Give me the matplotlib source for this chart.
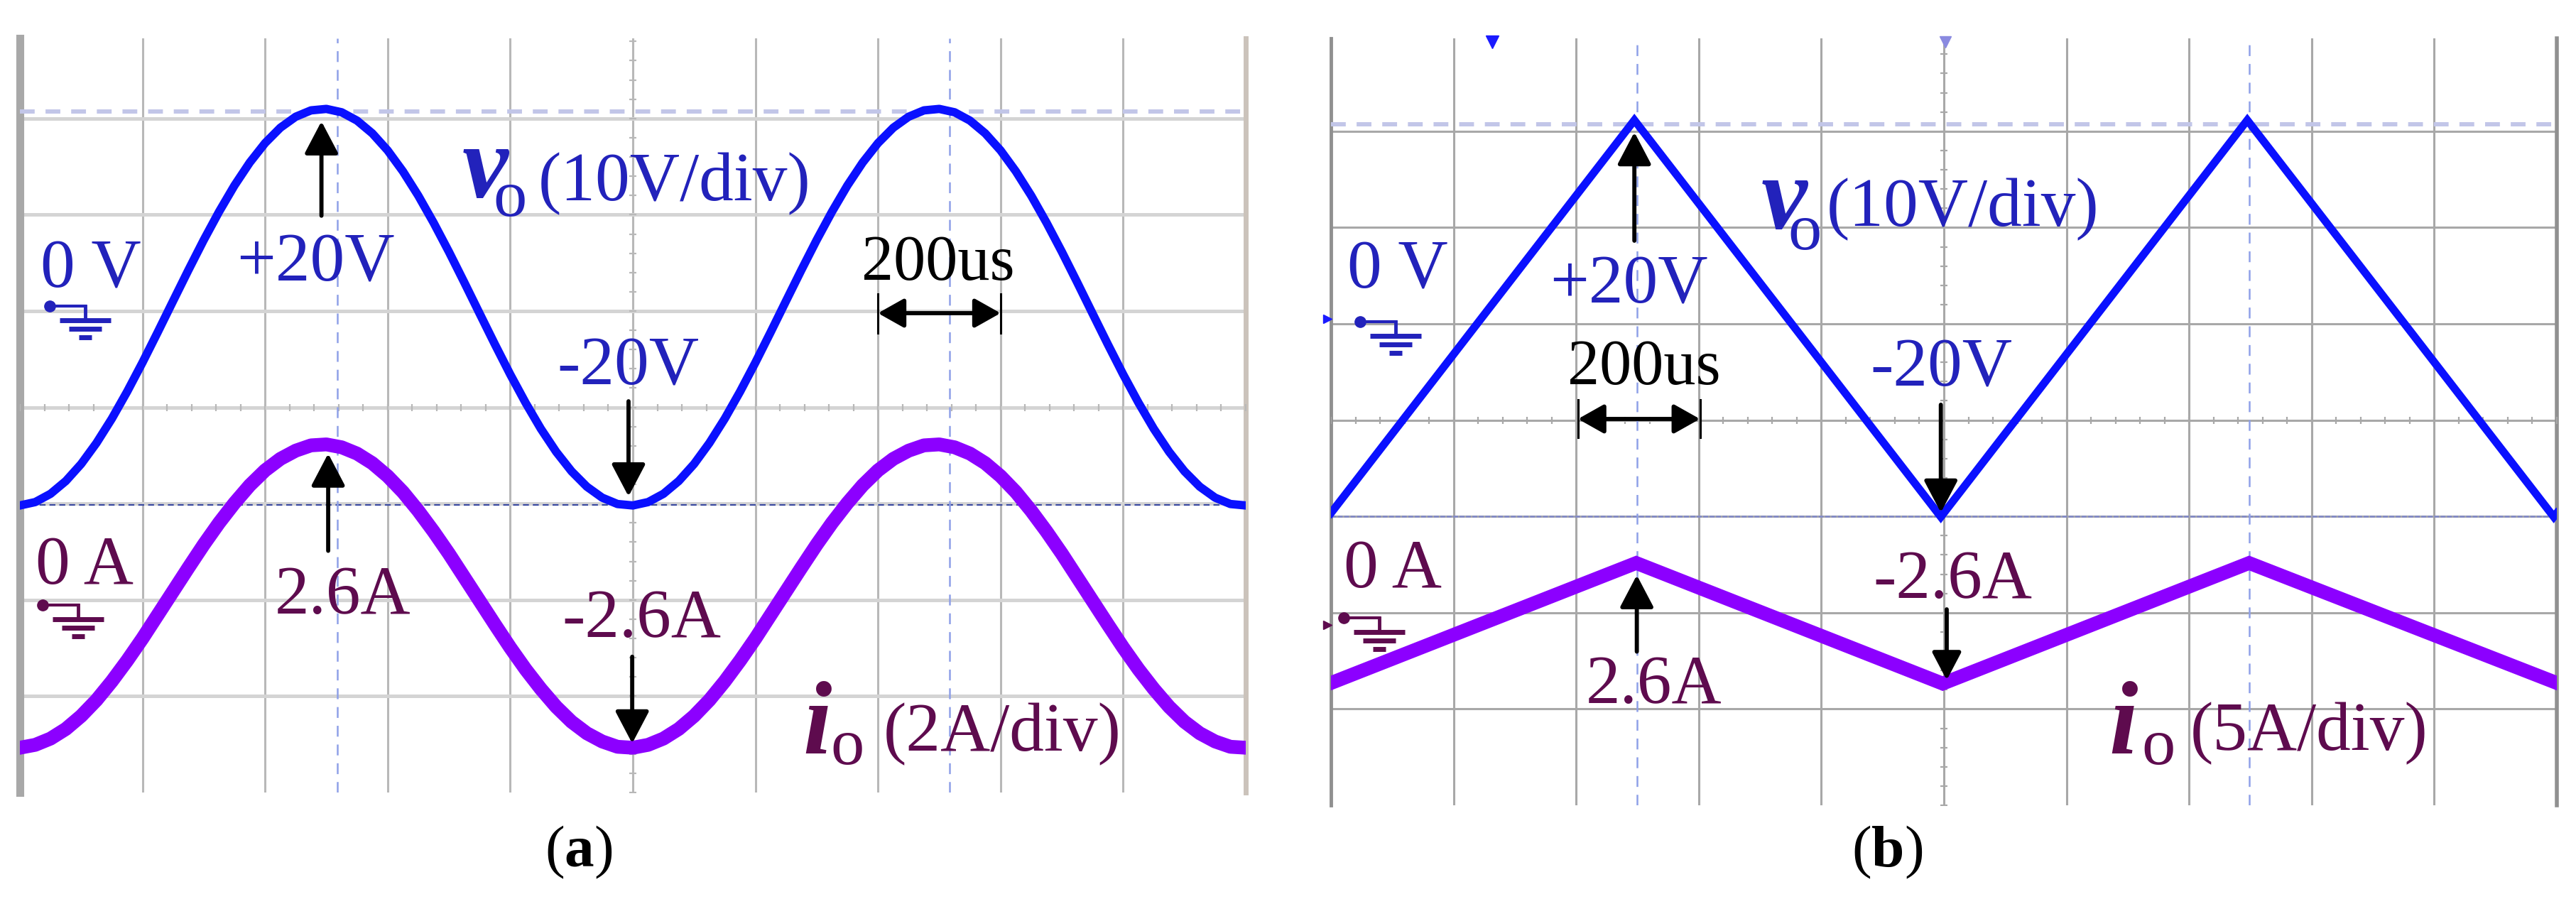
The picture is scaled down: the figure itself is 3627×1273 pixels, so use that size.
import numpy as np
import matplotlib
matplotlib.use("Agg")
import matplotlib.pyplot as plt

plt.rcParams["font.family"] = ["Liberation Serif", "DejaVu Serif"]
plt.rcParams["mathtext.fontset"] = "custom"
plt.rcParams["mathtext.rm"] = "Liberation Serif"
plt.rcParams["mathtext.bf"] = "Liberation Serif:bold"
plt.rcParams["lines.scale_dashes"] = False

# ---- waveforms read off the two scope screens (time in us) ----
# (a) sine output, sampled every 25 us
t_a = np.arange(0, 2001, 25)
v_a = [-20.59, -20.24, -19.38, -18.05, -16.28, -14.10, -11.58, -8.77, -5.75, -2.58,
       0.65, 3.86, 6.98, 9.92, 12.63, 15.02, 17.04, 18.64, 19.78, 20.44,
       20.59, 20.24, 19.38, 18.05, 16.28, 14.10, 11.58, 8.77, 5.75, 2.58,
       -0.65, -3.86, -6.98, -9.92, -12.63, -15.02, -17.04, -18.64, -19.78, -20.44,
       -20.59, -20.24, -19.38, -18.05, -16.28, -14.10, -11.58, -8.77, -5.75, -2.58,
       0.65, 3.86, 6.98, 9.92, 12.63, 15.02, 17.04, 18.64, 19.78, 20.44,
       20.59, 20.24, 19.38, 18.05, 16.28, 14.10, 11.58, 8.77, 5.75, 2.58,
       -0.65, -3.86, -6.98, -9.92, -12.63, -15.02, -17.04, -18.64, -19.78, -20.44,
       -20.59]
i_a = [-3.15, -3.09, -2.96, -2.76, -2.49, -2.16, -1.77, -1.34, -0.88, -0.39,
       0.10, 0.59, 1.07, 1.52, 1.93, 2.30, 2.61, 2.85, 3.02, 3.13,
       3.15, 3.09, 2.96, 2.76, 2.49, 2.16, 1.77, 1.34, 0.88, 0.39,
       -0.10, -0.59, -1.07, -1.52, -1.93, -2.30, -2.61, -2.85, -3.02, -3.13,
       -3.15, -3.09, -2.96, -2.76, -2.49, -2.16, -1.77, -1.34, -0.88, -0.39,
       0.10, 0.59, 1.07, 1.52, 1.93, 2.30, 2.61, 2.85, 3.02, 3.13,
       3.15, 3.09, 2.96, 2.76, 2.49, 2.16, 1.77, 1.34, 0.88, 0.39,
       -0.10, -0.59, -1.07, -1.52, -1.93, -2.30, -2.61, -2.85, -3.02, -3.13,
       -3.15]

# (b) triangle output, corner points
t_bv = [0, 495, 995, 1495, 1995, 2000]
v_b = [-20.2, 20.6, -20.6, 20.6, -20.6, -20.2]
t_bi = [0, 498, 998, 1498, 2000]
i_b = [-3.1, 3.13, -3.13, 3.13, -3.1]

# scope settings: volts/amps per division, channel zero (div)
v_div = 10
i_div_a = 2
i_div_b = 5
v_zero_a, i_zero_a = 0.04, -2.96
v_zero_b, i_zero_b = 0.055, -3.11

US_PER_DIV = 200

BLUE = "#0a10ff"
VIOLET = "#8c00ff"
VTXT = "#2222bb"
ATXT = "#5e0b4e"

W, H = 3627, 1273
fig = plt.figure(figsize=(W / 100, H / 100), dpi=100)


def make_axes(left_px, zero_px, bottom_div=-5.0, top_px=54):
    div_px = 135.6
    bottom_px = zero_px - bottom_div * div_px
    ax = fig.add_axes([left_px / W, (H - bottom_px) / H, 1726 / W, (bottom_px - top_px) / H])
    ax.set_xlim(0, 2000)
    ax.set_ylim(bottom_div, (zero_px - top_px) / div_px)
    ax.axis("off")
    return ax


def grid(ax, hcol, hlw, vcol, vlw, lcol, llw, rcol, rlw):
    y0, y1 = ax.get_ylim()
    for k in range(1, 10):
        ax.plot([k * US_PER_DIV] * 2, [y0, y1], color=vcol, lw=vlw, zorder=1)
    for k in range(-4, 3):
        ax.plot([0, 2000], [k, k], color=hcol, lw=hlw, zorder=1)
    ax.plot([0, 0], [y0, y1], color=lcol, lw=llw, zorder=1, clip_on=False)
    ax.plot([2000, 2000], [y0, y1], color=rcol, lw=rlw, zorder=1, clip_on=False)
    # minor ticks on the centre lines
    xs = np.arange(0, 2001, 40)
    ax.plot(xs, [-1] * len(xs), ls="none", marker="|", ms=7, mew=1.6, color=vcol, zorder=1)
    ys = np.arange(-5, y1, 0.2)
    ax.plot([1000] * len(ys), ys, ls="none", marker="_", ms=7, mew=1.6, color=vcol, zorder=1)


def cursors(ax, tx, y_hi, y_lo, lo_col, lo_style, lo_lw):
    y0, y1 = ax.get_ylim()
    ax.plot([0, 2000], [y_hi, y_hi], color="#c2c6e8", lw=4.3, ls=(0, (15, 11)), zorder=2)
    ax.plot([0, 2000], [y_lo, y_lo], color=lo_col, lw=lo_lw, ls=lo_style, zorder=2)
    for t in tx:
        ax.plot([t, t], [y0, y1], color="#8ea0e8", lw=1.8, ls=(0, (11, 8)), zorder=2)


def ground(ax, t0, y0, color):
    sx = US_PER_DIV / 172.6
    sy = 1 / 135.6
    ax.plot([t0], [y0], marker="o", ms=11, color=color, zorder=6)
    ax.plot([t0, t0 + 50 * sx], [y0, y0], color=color, lw=3, zorder=6)
    ax.plot([t0 + 50 * sx] * 2, [y0, y0 - 20 * sy], color=color, lw=3.5, zorder=6)
    for half, dy, lw in [(36, 20, 5), (23, 32, 5), (9, 44, 5)]:
        ax.plot([t0 + (50 - half) * sx, t0 + (50 + half) * sx], [y0 - dy * sy] * 2,
                color=color, lw=lw, solid_capstyle="butt", zorder=6)


def arrow(ax, t, y_from, y_to, scale=35):
    ax.annotate("", xy=(t, y_to), xytext=(t, y_from),
                arrowprops=dict(arrowstyle="-|>,head_length=0.8,head_width=0.42",
                                mutation_scale=scale, lw=4.2, color="k",
                                shrinkA=0, shrinkB=0), zorder=7)


def span(ax, t0, t1, y, ylo, yhi):
    ax.annotate("", xy=(t1, y), xytext=(t0, y),
                arrowprops=dict(arrowstyle="<|-|>,head_length=0.8,head_width=0.45",
                                mutation_scale=28, lw=4.2, color="k",
                                shrinkA=0, shrinkB=0), zorder=7)
    for t in (t0, t1):
        ax.plot([t, t], [ylo, yhi], color="k", lw=2.2, zorder=7)


def label(ax, t, y, s, color, size=70, **kw):
    ax.text(t, y, s, color=color, fontsize=size, ha="left", va="baseline", zorder=8, **kw)


# ================= panel (a) =================
ax1 = make_axes(28, 438)
grid(ax1, "#d4d4d4", 3.6, "#b8b8b8", 2.2, "#a8a8a8", 8, "#cbc3bb", 5)
cursors(ax1, [518, 1517], 2.07, -2.01, "#3a4aa0", (0, (6, 4)), 1.6)
ax1.plot(t_a, np.array(v_a) / v_div + v_zero_a, color=BLUE, lw=8.5, zorder=4)
ax1.plot(t_a, np.array(i_a) / i_div_a + i_zero_a, color=VIOLET, lw=14, zorder=4)

label(ax1, 33.6, 0.25, "0 V", VTXT)
ground(ax1, 48.7, 0.052, VTXT)
label(ax1, 353, 0.31, "+20V", VTXT)
arrow(ax1, 492, 0.99, 1.97)
label(ax1, 722, 1.18, "v", VTXT, size=105, fontweight="bold", fontstyle="italic")
label(ax1, 772, 0.988, "o", VTXT, size=68)
label(ax1, 846, 1.15, "(10V/div)", VTXT)
label(ax1, 1373, 0.325, "200us", "k", size=65)
span(ax1, 1400, 1600, -0.022, -0.229, 0.177)
label(ax1, 877, -0.76, "-20V", VTXT)
arrow(ax1, 993, -0.937, -1.925)

label(ax1, 25.5, -2.83, "0 A", ATXT)
ground(ax1, 37, -3.053, ATXT)
label(ax1, 416, -3.14, "2.6A", ATXT)
arrow(ax1, 503, -2.49, -1.48)
label(ax1, 885, -3.385, "-2.6A", ATXT)
arrow(ax1, 999, -3.59, -4.49)
label(ax1, 1277, -4.594, "i", ATXT, size=105, fontweight="bold", fontstyle="italic")
label(ax1, 1322, -4.705, "o", ATXT, size=68)
label(ax1, 1409, -4.565, "(2A/div)", ATXT)

# ================= panel (b) =================
ax2 = make_axes(1874, 456)
grid(ax2, "#a8a8a8", 2.2, "#a8a8a8", 2.2, "#909090", 3.5, "#909090", 4)
cursors(ax2, [499, 1498], 2.075, -2.0, "#8088c8", (0, (5, 1.5)), 1.8)
ax2.plot(t_bv, np.array(v_b) / v_div + v_zero_b, color=BLUE, lw=8, zorder=4,
         solid_joinstyle="miter")
ax2.plot(t_bi, np.array(i_b) / i_div_b + i_zero_b, color=VIOLET, lw=14, zorder=4,
         solid_joinstyle="miter")

# trigger / channel markers on the screen edge
top = ax2.get_ylim()[1]
ax2.plot([263], [top - 0.04], marker="v", ms=13, color="#1a1aff", clip_on=False, zorder=6)
ax2.plot([1002], [top - 0.04], marker="v", ms=11, color="#8a8ae0", clip_on=False, zorder=6)
ax2.plot([-6], [0.05], marker=">", ms=9, color="#1a1aff", clip_on=False, zorder=6)
ax2.plot([-6], [-3.13], marker=">", ms=9, color=ATXT, clip_on=False, zorder=6)

label(ax2, 26.7, 0.369, "0 V", VTXT)
ground(ax2, 47.5, 0.022, VTXT)
label(ax2, 357, 0.221, "+20V", VTXT)
arrow(ax2, 495, 0.863, 1.99)
label(ax2, 702, 0.988, "v", VTXT, size=105, fontweight="bold", fontstyle="italic")
label(ax2, 745, 0.774, "o", VTXT, size=68)
label(ax2, 809, 1.018, "(10V/div)", VTXT)
label(ax2, 386, -0.627, "200us", "k", size=65)
span(ax2, 403, 602, -0.988, -1.18, -0.789)
label(ax2, 879.5, -0.646, "-20V", VTXT)
arrow(ax2, 995, -0.84, -1.96)

label(ax2, 20.9, -2.736, "0 A", ATXT)
ground(ax2, 20.9, -3.053, ATXT)
label(ax2, 416, -3.938, "2.6A", ATXT)
arrow(ax2, 499, -3.404, -2.61)
label(ax2, 885, -2.847, "-2.6A", ATXT)
arrow(ax2, 1004.6, -2.965, -3.70, scale=30)
label(ax2, 1269, -4.46, "i", ATXT, size=105, fontweight="bold", fontstyle="italic")
label(ax2, 1322, -4.57, "o", ATXT, size=68)
label(ax2, 1402, -4.43, "(5A/div)", ATXT)

# captions
fig.text(815 / W, 1 - 1200 / H, r"($\mathbf{a}$)", fontsize=60, ha="center", va="center")
fig.text(2657 / W, 1 - 1200 / H, r"($\mathbf{b}$)", fontsize=60, ha="center", va="center")

fig.savefig("out.png", dpi=100, facecolor="white")
